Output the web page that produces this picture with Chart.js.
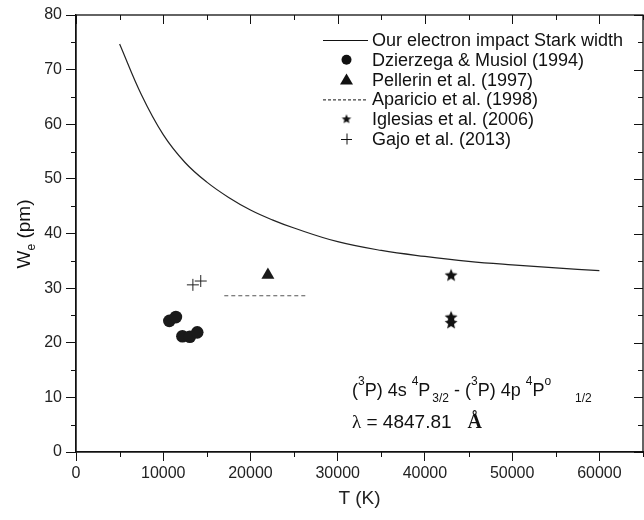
<!DOCTYPE html>
<html>
<head>
<meta charset="utf-8">
<script src="https://cdn.jsdelivr.net/npm/chart.js@4.4.1/dist/chart.umd.min.js"></script>
<style>
  html, body { margin: 0; padding: 0; background: #fff; }
  #wrap { width: 644px; height: 520px; }
</style>
</head>
<body>
<div id="wrap"><canvas id="starkChart" width="644" height="520"></canvas></div>
<script>
// calculated Stark width curve
const curveT = [5000, 7500, 10000, 12500, 15000, 17500, 20000, 22500, 25000, 30000, 35000, 40000, 45000, 50000, 55000, 60000];
const curveW = [74.7, 65.4, 58.1, 53.0, 49.4, 46.6, 44.3, 42.5, 41.0, 38.5, 36.9, 35.8, 34.9, 34.25, 33.7, 33.2];

// experiments
const dzierzegaT = [10700, 11450, 12200, 13050, 13900];
const dzierzegaW = [24.0, 24.7, 21.2, 21.1, 21.9];
const pellerinT = [22000];
const pellerinW = [32.4];
const aparicioT = [17000, 26600];
const aparicioW = [28.6, 28.6];
const iglesiasT = [43000, 43000, 43000];
const iglesiasW = [32.3, 24.6, 23.6];
const gajoT = [13400, 14300];
const gajoW = [30.6, 31.3];

const xTicks = [0, 10000, 20000, 30000, 40000, 50000, 60000];
const yTicks = [0, 10, 20, 30, 40, 50, 60, 70, 80];

const FONT = '"Liberation Sans", Arial, sans-serif';

function pts(xs, ys) {
  return xs.map((x, i) => ({ x: x, y: ys[i] }));
}

function makeStar(r) {
  const c = document.createElement('canvas');
  const s = Math.ceil(r * 2) + 2;
  c.width = s; c.height = s;
  const g = c.getContext('2d');
  g.fillStyle = '#111';
  g.beginPath();
  for (let i = 0; i < 10; i++) {
    const a = -Math.PI / 2 + i * Math.PI / 5;
    const rr = i % 2 ? r * 0.45 : r;
    const px = s / 2 + rr * Math.cos(a), py = s / 2 + rr * Math.sin(a);
    if (i === 0) g.moveTo(px, py); else g.lineTo(px, py);
  }
  g.closePath();
  g.fill();
  return c;
}
const bigStar = makeStar(6.8);
const smallStar = makeStar(5);

// draws frame, minor ticks, mirrored ticks, y title, legend and annotation
const extras = {
  id: 'extras',
  afterDraw(chart) {
    const ctx = chart.ctx;
    const a = chart.chartArea;
    const xs = chart.scales.x, ys = chart.scales.y;
    ctx.save();
    ctx.strokeStyle = '#111';
    ctx.lineWidth = 1.3;
    ctx.strokeRect(a.left, a.top, a.right - a.left, a.bottom - a.top);

    ctx.lineWidth = 1;
    ctx.beginPath();
    for (let v = 0; v <= 65000; v += 5000) {
      const px = Math.round(xs.getPixelForValue(v)) + 0.5;
      const major = v % 10000 === 0;
      if (!major) { ctx.moveTo(px, a.bottom); ctx.lineTo(px, a.bottom + 5); }
      ctx.moveTo(px, a.top); ctx.lineTo(px, a.top + (major ? 9 : 5));
    }
    for (let v = 0; v <= 80; v += 5) {
      const py = Math.round(ys.getPixelForValue(v)) + 0.5;
      const major = v % 10 === 0;
      if (!major) { ctx.moveTo(a.left, py); ctx.lineTo(a.left - 5, py); }
      ctx.moveTo(a.right, py); ctx.lineTo(a.right - (major ? 9 : 5), py);
    }
    ctx.stroke();

    // y title with subscript
    ctx.fillStyle = '#111';
    ctx.translate(30, 234);
    ctx.rotate(-Math.PI / 2);
    ctx.textBaseline = 'alphabetic';
    ctx.font = '19px ' + FONT;
    const wW = ctx.measureText('W').width;
    ctx.font = '12px ' + FONT;
    const eW = ctx.measureText('e').width;
    ctx.font = '19px ' + FONT;
    const restW = ctx.measureText(' (pm)').width;
    let cx = -(wW + eW + restW) / 2;
    ctx.fillText('W', cx, 0); cx += wW;
    ctx.font = '12px ' + FONT;
    ctx.fillText('e', cx, 5); cx += eW;
    ctx.font = '19px ' + FONT;
    ctx.fillText(' (pm)', cx, 0);
    ctx.setTransform(1, 0, 0, 1, 0, 0);

    // legend
    const ds = chart.data.datasets;
    const lx = 372, mx = 346.5;
    ctx.font = '18px ' + FONT;
    ctx.textBaseline = 'middle';
    ds.forEach((d, i) => {
      const ly = 40 + i * 19.8;
      ctx.fillStyle = '#111';
      ctx.strokeStyle = '#111';
      if (d.legendKind === 'line' || d.legendKind === 'dash') {
        ctx.lineWidth = 1;
        ctx.setLineDash(d.legendKind === 'dash' ? [3, 2] : []);
        ctx.beginPath();
        ctx.moveTo(323, ly + 0.5); ctx.lineTo(368, ly + 0.5);
        ctx.stroke();
        ctx.setLineDash([]);
      } else if (d.legendKind === 'circle') {
        ctx.beginPath(); ctx.arc(mx, ly, 5, 0, Math.PI * 2); ctx.fill();
      } else if (d.legendKind === 'triangle') {
        ctx.beginPath();
        ctx.moveTo(mx, ly - 6); ctx.lineTo(mx + 6.5, ly + 5); ctx.lineTo(mx - 6.5, ly + 5);
        ctx.closePath(); ctx.fill();
      } else if (d.legendKind === 'star') {
        ctx.drawImage(smallStar, mx - smallStar.width / 2, ly - smallStar.height / 2);
      } else if (d.legendKind === 'plus') {
        ctx.lineWidth = 1;
        ctx.beginPath();
        ctx.moveTo(mx - 5.5, ly + 0.5); ctx.lineTo(mx + 5.5, ly + 0.5);
        ctx.moveTo(mx + 0.5, ly - 5.5); ctx.lineTo(mx + 0.5, ly + 5.5);
        ctx.stroke();
      }
      ctx.fillText(d.label, lx, ly + 1);
    });

    // transition annotation: [text, dy, size, gap before]
    ctx.textBaseline = 'alphabetic';
    const parts = [
      ['(', 0, 18], ['3', -11, 12], ['P) 4s ', 0, 18], ['4', -11, 12], ['P', 0, 18],
      ['3/2', 6, 12, 2], ['- (', 0, 18, 5], ['3', -11, 12], ['P) 4p ', 0, 18], ['4', -11, 12],
      ['P', 0, 18], ['o', -11, 12], ['1/2', 6, 12, 24]
    ];
    let tx = 352;
    const base1 = 396;
    parts.forEach(p => {
      ctx.font = p[2] + 'px ' + FONT;
      tx += p[3] || 0;
      ctx.fillText(p[0], tx, base1 + p[1]);
      tx += ctx.measureText(p[0]).width;
    });
    const base2 = 428;
    tx = 352;
    ctx.font = '19px "Liberation Serif", serif';
    ctx.fillText('\u03bb', tx, base2);
    tx += ctx.measureText('\u03bb').width;
    ctx.font = '19px ' + FONT;
    ctx.fillText(' = 4847.81', tx, base2);
    tx += ctx.measureText(' = 4847.81').width + 16;
    ctx.font = 'bold 20px "Liberation Serif", serif';
    ctx.fillText('\u00c5', tx, base2);
    ctx.restore();
  }
};

new Chart(document.getElementById('starkChart'), {
  type: 'scatter',
  data: {
    datasets: [
      {
        label: 'Our electron impact Stark width', legendKind: 'line',
        data: pts(curveT, curveW), showLine: true, borderColor: '#222', borderWidth: 1.2,
        pointRadius: 0, tension: 0.4
      },
      {
        label: 'Dzierzega & Musiol (1994)', legendKind: 'circle',
        data: pts(dzierzegaT, dzierzegaW), pointStyle: 'circle', pointRadius: 6.3,
        backgroundColor: '#1a1a1a', borderColor: '#1a1a1a', borderWidth: 0
      },
      {
        label: 'Pellerin et al. (1997)', legendKind: 'triangle',
        data: pts(pellerinT, pellerinW), pointStyle: 'triangle', pointRadius: 7.5,
        backgroundColor: '#1a1a1a', borderColor: '#1a1a1a', borderWidth: 0
      },
      {
        label: 'Aparicio et al. (1998)', legendKind: 'dash',
        data: pts(aparicioT, aparicioW), showLine: true, borderColor: '#555', borderWidth: 1.2,
        borderDash: [4, 3], pointRadius: 0
      },
      {
        label: 'Iglesias et al. (2006)', legendKind: 'star',
        data: pts(iglesiasT, iglesiasW), pointStyle: bigStar, pointRadius: 7
      },
      {
        label: 'Gajo et al. (2013)', legendKind: 'plus',
        data: pts(gajoT, gajoW), pointStyle: 'cross', pointRadius: 6,
        borderColor: '#222', borderWidth: 1
      }
    ]
  },
  options: {
    responsive: false,
    animation: false,
    layout: { autoPadding: false, padding: { top: 15, right: 1, left: 0, bottom: 0 } },
    plugins: { legend: { display: false }, tooltip: { enabled: false } },
    scales: {
      x: {
        type: 'linear', min: 0, max: 65000,
        afterFit(scale) { scale.height = 68; scale.paddingLeft = 0; scale.paddingRight = 0; },
        afterBuildTicks(scale) { scale.ticks = xTicks.map(v => ({ value: v })); },
        ticks: { color: '#222', font: { family: FONT, size: 16 }, padding: 3, maxRotation: 0,
          callback: v => String(v) },
        grid: { drawOnChartArea: false, tickLength: 9, tickColor: '#111', tickWidth: 1 },
        border: { color: '#111', width: 1.3 },
        title: { display: true, text: 'T (K)', color: '#222', font: { family: FONT, size: 19 },
          padding: { top: 2, bottom: 10 } }
      },
      y: {
        type: 'linear', min: 0, max: 80,
        afterFit(scale) { scale.width = 76; },
        afterBuildTicks(scale) { scale.ticks = yTicks.map(v => ({ value: v })); },
        ticks: { color: '#222', font: { family: FONT, size: 16 }, padding: 4,
          callback: v => String(v) },
        grid: { drawOnChartArea: false, tickLength: 10, tickColor: '#111', tickWidth: 1 },
        border: { color: '#111', width: 1.3 }
      }
    }
  },
  plugins: [extras]
});
</script>
</body>
</html>
